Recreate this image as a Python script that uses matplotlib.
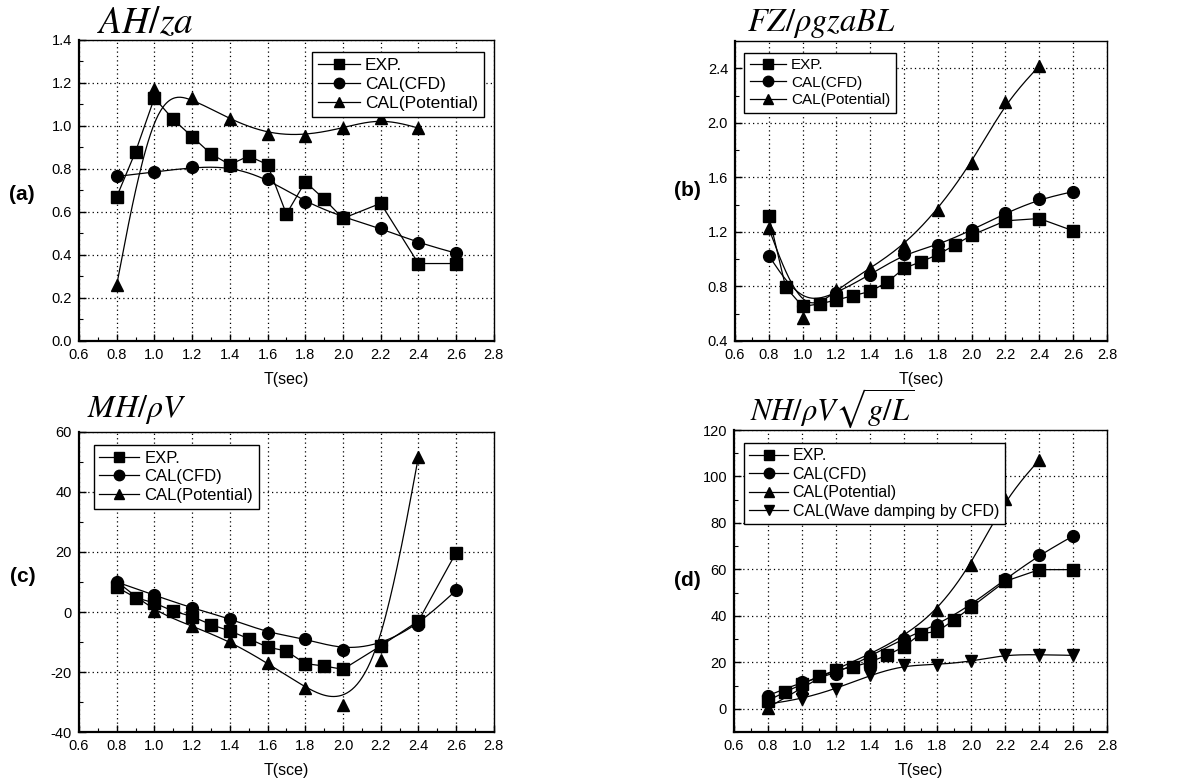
import numpy as np
import matplotlib
matplotlib.use("Agg")
import matplotlib.pyplot as plt
from matplotlib.ticker import MultipleLocator, FormatStrFormatter

plt.rcParams["font.family"] = ["Liberation Sans", "DejaVu Sans"]
plt.rcParams["mathtext.fontset"] = "stix"

# ---- data ----
# (a) AH/za
t_exp_a = [0.8, 0.9, 1.0, 1.1, 1.2, 1.3, 1.4, 1.5, 1.6, 1.7, 1.8, 1.9, 2.0, 2.2, 2.4, 2.6]
exp_a = [0.67, 0.88, 1.13, 1.03, 0.95, 0.87, 0.82, 0.86, 0.82, 0.59, 0.74, 0.66, 0.57, 0.64, 0.36, 0.36]
t_cfd_a = [0.8, 1.0, 1.2, 1.4, 1.6, 1.8, 2.0, 2.2, 2.4, 2.6]
cfd_a = [0.765, 0.786, 0.807, 0.812, 0.754, 0.646, 0.576, 0.523, 0.457, 0.408]
t_pot_a = [0.8, 1.0, 1.2, 1.4, 1.6, 1.8, 2.0, 2.2, 2.4]
pot_a = [0.26, 1.17, 1.128, 1.03, 0.963, 0.955, 0.99, 1.037, 0.99]

# (b) FZ/rho g za B L
t_exp_b = [0.8, 0.9, 1.0, 1.1, 1.2, 1.3, 1.4, 1.5, 1.6, 1.7, 1.8, 1.9, 2.0, 2.2, 2.4, 2.6]
exp_b = [1.317, 0.794, 0.653, 0.672, 0.70, 0.733, 0.763, 0.831, 0.933, 0.981, 1.033, 1.103, 1.176, 1.281, 1.298, 1.208]
t_cfd_b = [0.8, 1.0, 1.2, 1.4, 1.6, 1.8, 2.0, 2.2, 2.4, 2.6]
cfd_b = [1.025, 0.66, 0.75, 0.887, 1.037, 1.103, 1.213, 1.337, 1.439, 1.495]
t_pot_b = [0.8, 1.0, 1.2, 1.4, 1.6, 1.8, 2.0, 2.2, 2.4]
pot_b = [1.225, 0.568, 0.775, 0.933, 1.103, 1.363, 1.707, 2.149, 2.417]

# (c) MH/rho V
t_exp_c = [0.8, 0.9, 1.0, 1.1, 1.2, 1.3, 1.4, 1.5, 1.6, 1.7, 1.8, 1.9, 2.0, 2.2, 2.4, 2.6]
exp_c = [8.3, 4.8, 3.0, 0.3, -1.5, -4.2, -6.3, -8.9, -11.7, -13.0, -17.2, -18.0, -19.1, -11.3, -3.0, 19.8]
t_cfd_c = [0.8, 1.0, 1.2, 1.4, 1.6, 1.8, 2.0, 2.2, 2.4, 2.6]
cfd_c = [10.0, 5.6, 1.3, -2.2, -6.9, -8.9, -12.6, -10.9, -4.2, 7.2]
t_pot_c = [0.8, 1.0, 1.2, 1.4, 1.6, 1.8, 2.0, 2.2, 2.4]
pot_c = [10.2, 0.2, -4.7, -9.8, -17.0, -25.3, -31.1, -15.9, 51.7]

# (d) NH/rho V sqrt(g/L)
t_exp_d = [0.8, 0.9, 1.0, 1.1, 1.2, 1.3, 1.4, 1.5, 1.6, 1.7, 1.8, 1.9, 2.0, 2.2, 2.4, 2.6]
exp_d = [3.5, 7.2, 10.5, 14.1, 16.5, 18.0, 20.1, 23.0, 26.6, 32.3, 33.3, 38.4, 43.8, 54.9, 59.9, 59.9]
t_cfd_d = [0.8, 1.0, 1.2, 1.4, 1.6, 1.8, 2.0, 2.2, 2.4, 2.6]
cfd_d = [5.7, 11.5, 15.1, 22.6, 30.2, 36.2, 44.8, 55.8, 66.1, 74.4]
t_pot_d = [0.8, 1.0, 1.2, 1.4, 1.6, 1.8, 2.0, 2.2, 2.4]
pot_d = [0.5, 9.0, 17.2, 23.4, 31.2, 42.4, 62.1, 90.5, 107.1]
t_wave_d = [0.8, 1.0, 1.2, 1.4, 1.6, 1.8, 2.0, 2.2, 2.4, 2.6]
wave_d = [2.0, 4.3, 8.6, 14.4, 18.7, 19.0, 20.4, 23.3, 23.3, 23.0]

labels = ["EXP.", "CAL(CFD)", "CAL(Potential)", "CAL(Wave damping by CFD)"]
markers = ["s", "o", "^", "v"]


def bspline(x, y, n=30):
    # uniform cubic B-spline drawn with the points as control points (ends clamped)
    px = np.r_[x[0], x[0], x, x[-1], x[-1]]
    py = np.r_[y[0], y[0], y, y[-1], y[-1]]
    t = np.linspace(0, 1, n)
    b0 = (1 - t) ** 3 / 6
    b1 = (3 * t**3 - 6 * t**2 + 4) / 6
    b2 = (-3 * t**3 + 3 * t**2 + 3 * t + 1) / 6
    b3 = t**3 / 6
    xs, ys = [], []
    for i in range(len(px) - 3):
        xs.append(b0 * px[i] + b1 * px[i + 1] + b2 * px[i + 2] + b3 * px[i + 3])
        ys.append(b0 * py[i] + b1 * py[i + 1] + b2 * py[i + 2] + b3 * py[i + 3])
    return np.concatenate(xs), np.concatenate(ys)


def draw_series(ax, x, y, k, smooth):
    if smooth:
        sx, sy = bspline(np.array(x), np.array(y))
        ax.plot(sx, sy, color="black", lw=0.9, zorder=2)
    else:
        ax.plot(x, y, color="black", lw=0.9, zorder=2)
    ax.plot(x, y, ls="none", marker=markers[k], color="black", ms=8.5, zorder=3)
    # proxy handle for the legend
    ax.plot([], [], color="black", lw=0.9, marker=markers[k], ms=7.5, label=labels[k])


def style_axes(ax, ylim, ymajor, yminor, yfmt, xlabel, legend_loc, legend_anchor, legend_size):
    ax.set_xlim(0.6, 2.8)
    ax.set_ylim(*ylim)
    ax.xaxis.set_major_locator(MultipleLocator(0.2))
    ax.xaxis.set_minor_locator(MultipleLocator(0.1))
    ax.yaxis.set_major_locator(MultipleLocator(ymajor))
    ax.yaxis.set_minor_locator(MultipleLocator(yminor))
    ax.xaxis.set_major_formatter(FormatStrFormatter("%.1f"))
    ax.yaxis.set_major_formatter(FormatStrFormatter(yfmt))
    ax.tick_params(which="both", direction="in", top=False, right=False, labelsize=10.5)
    ax.tick_params(which="major", length=5, width=1, pad=5)
    ax.tick_params(which="minor", length=3, width=0.8)
    ax.grid(True, which="major", ls=(0, (1, 2.5)), color="black", lw=0.9)
    for s in ["left", "bottom"]:
        ax.spines[s].set_linewidth(1.6)
    for s in ["top", "right"]:
        ax.spines[s].set_linewidth(1.0)
    ax.set_xlabel(xlabel, fontsize=11.5, labelpad=7)
    leg = ax.legend(loc=legend_loc, bbox_to_anchor=legend_anchor, fontsize=legend_size,
                    frameon=True, fancybox=False, edgecolor="black", framealpha=1,
                    handlelength=2.4, handletextpad=0.3, borderpad=0.35,
                    labelspacing=0.22)
    leg.get_frame().set_linewidth(1.0)


fig = plt.figure(figsize=(11.82, 7.82), dpi=100)

ax_a = fig.add_axes([0.0668, 0.564, 0.351, 0.385])
ax_b = fig.add_axes([0.6218, 0.564, 0.3147, 0.3836])
ax_c = fig.add_axes([0.0668, 0.0639, 0.351, 0.3837])
ax_d = fig.add_axes([0.621, 0.0639, 0.3156, 0.3862])

draw_series(ax_a, t_exp_a, exp_a, 0, False)
draw_series(ax_a, t_cfd_a, cfd_a, 1, True)
draw_series(ax_a, t_pot_a, pot_a, 2, True)
style_axes(ax_a, (0, 1.4), 0.2, 0.1, "%.1f", "T(sec)", "upper right", (0.997, 0.99), 12.5)

draw_series(ax_b, t_exp_b, exp_b, 0, False)
draw_series(ax_b, t_cfd_b, cfd_b, 1, True)
draw_series(ax_b, t_pot_b, pot_b, 2, True)
style_axes(ax_b, (0.4, 2.6), 0.4, 0.2, "%.1f", "T(sec)", "upper left", (0.005, 0.985), 11)

draw_series(ax_c, t_exp_c, exp_c, 0, False)
draw_series(ax_c, t_cfd_c, cfd_c, 1, True)
draw_series(ax_c, t_pot_c, pot_c, 2, True)
style_axes(ax_c, (-40, 60), 20, 10, "%d", "T(sce)", "upper left", (0.015, 0.985), 12)

draw_series(ax_d, t_exp_d, exp_d, 0, False)
draw_series(ax_d, t_cfd_d, cfd_d, 1, True)
draw_series(ax_d, t_pot_d, pot_d, 2, True)
draw_series(ax_d, t_wave_d, wave_d, 3, True)
style_axes(ax_d, (-10, 120), 20, 10, "%d", "T(sec)", "upper left", (0.005, 0.985), 11.5)

# titles in italic serif math
fig.text(97 / 1182, 1 - 23 / 782, r"$AH/za$", fontsize=27, va="center", ha="left")
fig.text(747 / 1182, 1 - 24 / 782, r"$FZ/\rho gzaBL$", fontsize=23.5, va="center", ha="left")
fig.text(87 / 1182, 1 - 410 / 782, r"$MH/\rho V$", fontsize=23, va="center", ha="left")
fig.text(750 / 1182, 1 - 408 / 782, r"$NH/\rho V\sqrt{g/L}$", fontsize=22, va="center", ha="left")

# panel letters
for lab, x, y in [("(a)", 22, 195), ("(b)", 687, 190), ("(c)", 23, 577), ("(d)", 687, 580)]:
    fig.text(x / 1182, 1 - y / 782, lab, fontsize=15, fontweight="bold", ha="center", va="center")

fig.savefig("out.png", dpi=100)
